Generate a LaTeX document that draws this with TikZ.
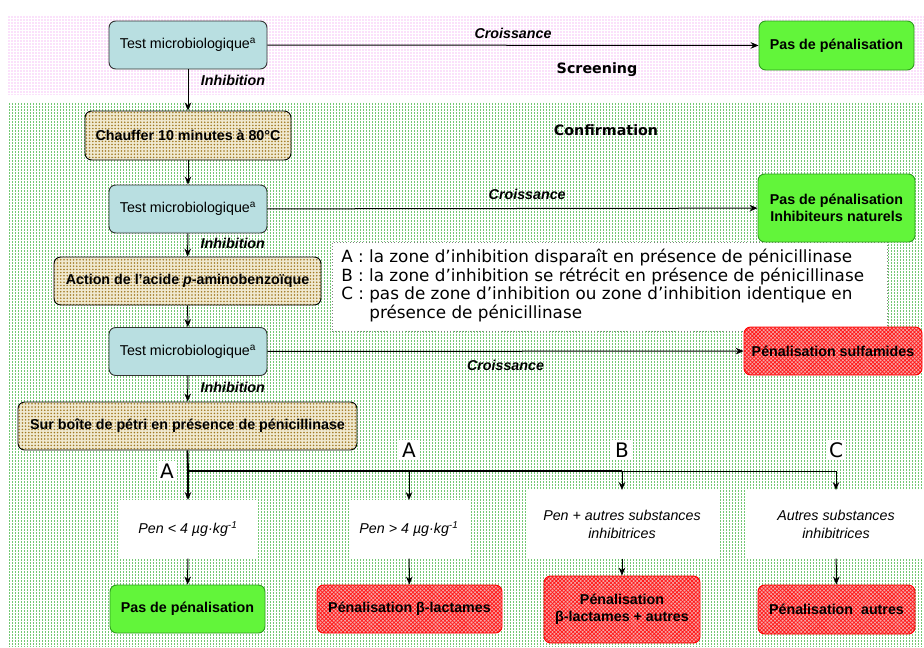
\documentclass[tikz,border=0pt]{standalone}
\usepackage{fontspec}
\setmainfont{Liberation Sans}
\newfontfamily\dejavu{DejaVu Sans}
\usetikzlibrary{arrows.meta,patterns,patterns.meta}

\definecolor{tealc}{HTML}{B9DFE1}
\definecolor{okgreen}{HTML}{62F53A}
\definecolor{okborder}{HTML}{2E9E1E}
\definecolor{penbase}{HTML}{F6A8A8}
\definecolor{stepbase}{HTML}{F0E9D0}
\definecolor{stepdot}{HTML}{A07820}
\definecolor{pinkdot}{HTML}{EE7CEE}
\definecolor{greenline}{HTML}{74C874}

\newcommand{\pxu}{*0.75pt}
\newcommand{\basefont}{\fontsize{10.7}{13}\selectfont}

\begin{document}
\begin{tikzpicture}[x=0.75pt,y=-0.75pt,
  every node/.style={font=\basefont},
  box/.style={draw, rounded corners=5pt, inner sep=0pt, align=center, line width=0.7pt},
  testbox/.style={box, fill=tealc, draw=black!80, minimum width=158\pxu, minimum height=48\pxu},
  okbox/.style={box, fill=okgreen, draw=okborder, font=\basefont\bfseries},
  penbox/.style={box, draw=red, preaction={fill=penbase},
    pattern={Hatch[distance=2pt,angle=45,line width=0.55pt]}, pattern color=red!90!white,
    font=\basefont\bfseries},
  stepbox/.style={box, draw=black, preaction={fill=stepbase},
    pattern={Dots[distance=2.4pt,radius=0.65pt]}, pattern color=stepdot,
    font=\basefont\bfseries, minimum height=48\pxu},
  resultbox/.style={fill=white, inner sep=0pt, align=center, font=\basefont\itshape},
  arr/.style={-{Stealth[length=6pt,width=5pt,inset=2pt]}, line width=0.75pt},
  lbl/.style={font=\basefont\bfseries\itshape},
  area/.style={font=\dejavu\fontsize{10.7}{13}\selectfont\bfseries},
  letter/.style={font=\dejavu\fontsize{15}{18}\selectfont, fill=white, inner sep=2pt},
  hatchline/.style={greenline, line width=0.75pt, dash pattern=on 1.5pt off 0.75pt}
]
\useasboundingbox (0,0) rectangle (924,647);

% screening area: pink dots
\fill[pattern={Dots[distance=2.25pt,radius=0.5pt]}, pattern color=pinkdot] (8,15) rectangle (924,94);
% confirmation area: dashed green verticals
\foreach \x in {9.5,12.5,...,923.5}
  \draw[hatchline] (\x,103) -- (\x,647);
\node[area] (screening) at (597,70) {Screening};
\node[area] (confirmation) at (606,130) {Confirmation};

% legend
\node[draw=gray, dotted, fill=white, inner sep=0pt, minimum width=555\pxu, minimum height=89\pxu] (legend) at (609.5,286.5) {};
\node[anchor=north west, align=left, inner sep=0pt,
      font=\dejavu\fontsize{12.6}{13.9}\selectfont] (legendtext) at (341,249)
  {A : la zone d’inhibition disparaît en présence de pénicillinase\\
   B : la zone d’inhibition se rétrécit en présence de pénicillinase\\
   C : pas de zone d’inhibition ou zone d’inhibition identique en\\
   \phantom{C : }présence de pénicillinase};

% main chain
\node[testbox] (t1) at (188,45) {Test microbiologique\textsuperscript{a}};
\node[okbox, minimum width=155\pxu, minimum height=49\pxu] (p1) at (836.5,45.5) {Pas de pénalisation};
\node[stepbox, minimum width=206\pxu, minimum height=49\pxu] (chauf) at (188,135.5) {Chauffer 10 minutes à 80°C};
\node[testbox] (t2) at (188,209) {Test microbiologique\textsuperscript{a}};
\node[okbox, minimum width=157\pxu, minimum height=68\pxu] (p2) at (836.5,208) {Pas de pénalisation\\Inhibiteurs naturels};
\node[stepbox, minimum width=267\pxu] (action) at (187.5,281) {Action de l’acide \textit{p}-aminobenzoïque};
\node[testbox] (t3) at (188,351.5) {Test microbiologique\textsuperscript{a}};
\node[penbox, minimum width=178\pxu, minimum height=48\pxu] (sulf) at (833,351) {Pénalisation sulfamides};
\node[stepbox, minimum width=339\pxu] (petri) at (187.5,426) {Sur boîte de pétri en présence de pénicillinase};

\draw[arr] (t1) -- (p1) node[lbl, midway, above=1pt] {Croissance};
\draw[arr] (t1) -- (chauf) node[lbl, pos=0.27, anchor=west, xshift=6pt] {Inhibition};
\draw[arr] (chauf) -- (t2);
\draw[arr] (t2) -- (p2) node[lbl, pos=0.53, above=3pt] {Croissance};
\draw[arr] (t2) -- (action) node[lbl, pos=0.45, anchor=west, xshift=6pt] {Inhibition};
\draw[arr] (action) -- (t3);
\draw[arr] (t3) -- (sulf) node[lbl, pos=0.5, below=3pt] {Croissance};
\draw[arr] (t3) -- (petri) node[lbl, pos=0.45, anchor=west, xshift=6pt] {Inhibition};

% outcomes on the petri dish
\node[resultbox, minimum width=140\pxu, minimum height=58\pxu, anchor=north] (w1) at (188,500) {Pen < 4 µg·kg\textsuperscript{-1}};
\node[resultbox, minimum width=120\pxu, minimum height=58\pxu, anchor=north] (w2) at (409,500) {Pen > 4 µg·kg\textsuperscript{-1}};
\node[resultbox, minimum width=191\pxu, minimum height=68\pxu, anchor=north] (w3) at (622,490) {Pen + autres substances\\inhibitrices};
\node[resultbox, minimum width=180\pxu, minimum height=68\pxu, anchor=north] (w4) at (836,490) {Autres substances\\inhibitrices};

\coordinate (j) at (188,471);
\draw[line width=1.4pt] (petri.south) -- (j) -- (j -| w3.north);
\draw[line width=0.75pt] (j -| w3.north) -- (j -| w4.north);
\draw[arr, line width=1.2pt] (j) -- (w1.north);
\draw[arr] (j -| w2.north) -- (w2.north);
\draw[arr] (j -| w3.north) -- (w3.north);
\draw[arr] (j -| w4.north) -- (w4.north);

\node[letter] (la1) at (167,471) {A};
\node[letter] (la2) at (409,450) {A};
\node[letter] (lb) at (622,450) {B};
\node[letter] (lc) at (836,450) {C};

\node[okbox, minimum width=155\pxu, minimum height=48\pxu] (f1) at (187.5,609) {Pas de pénalisation};
\node[penbox, minimum width=185\pxu, minimum height=48\pxu] (f2) at (409.5,609) {Pénalisation β-lactames};
\node[penbox, minimum width=156\pxu, minimum height=67\pxu] (f3) at (622,609.5) {Pénalisation\\β-lactames + autres};
\node[penbox, minimum width=157\pxu, minimum height=49\pxu] (f4) at (836.5,609.5) {Pénalisation~~autres};

\draw[arr] (w1) -- (f1);
\draw[arr] (w2) -- (f2);
\draw[arr] (w3) -- (f3);
\draw[arr] (w4) -- (f4);
\end{tikzpicture}
\end{document}
